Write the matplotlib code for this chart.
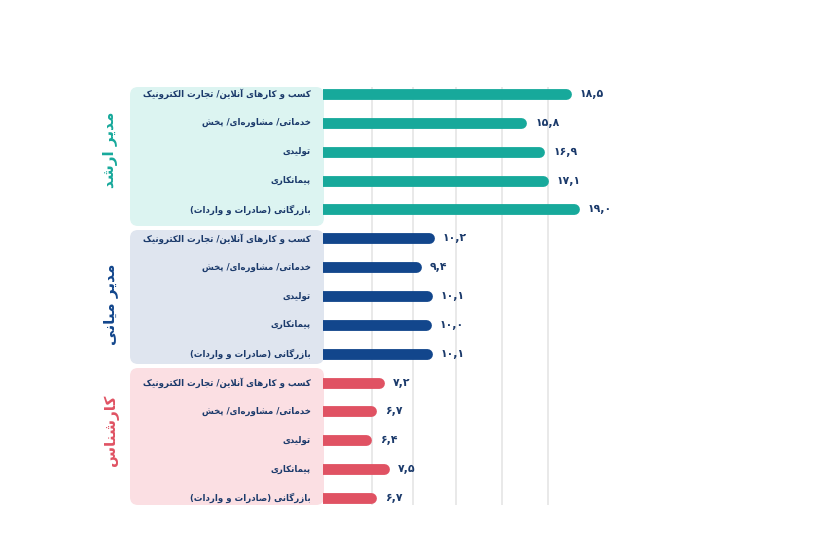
import matplotlib
matplotlib.use("Agg")
import matplotlib.pyplot as plt
from matplotlib.patches import FancyBboxPatch
from matplotlib.transforms import ScaledTranslation, IdentityTransform

# ---------------- data ----------------
categories = [
    "کسب و کارهای آنلاین/ تجارت الکترونیک",
    "خدماتی/ مشاوره‌ای/ پخش",
    "تولیدی",
    "پیمانکاری",
    "بازرگانی (صادرات و واردات)",
]
groups = ["مدیر ارشد", "مدیر میانی", "کارشناس"]
senior_values = [18.5, 15.8, 16.9, 17.1, 19.0]
middle_values = [10.2, 9.4, 10.1, 10.0, 10.1]
expert_values = [7.2, 6.7, 6.4, 7.5, 6.7]
grid_values = [6.4, 8.9, 11.5, 14.3, 17.1]

group_values = [senior_values, middle_values, expert_values]
bar_colors = ["#17a99b", "#12468c", "#e05263"]
panel_colors = ["#dcf4f1", "#dfe5ef", "#fbdfe3"]
title_colors = ["#17a99b", "#12468c", "#e05263"]
text_color = "#1b3a6b"

# ------------- minimal Persian shaping -------------
_RJ = {"ا": 0xFE8D, "آ": 0xFE81, "د": 0xFEA9, "ذ": 0xFEAB, "ر": 0xFEAD,
       "ز": 0xFEAF, "ژ": 0xFB8A, "و": 0xFEED}
_DJ = {"ب": 0xFE8F, "پ": 0xFB56, "ت": 0xFE95, "ث": 0xFE99, "ج": 0xFE9D,
       "چ": 0xFB7A, "ح": 0xFEA1, "خ": 0xFEA5, "س": 0xFEB1, "ش": 0xFEB5,
       "ص": 0xFEB9, "ض": 0xFEBD, "ط": 0xFEC1, "ظ": 0xFEC5, "ع": 0xFEC9,
       "غ": 0xFECD, "ف": 0xFED1, "ق": 0xFED5, "ک": 0xFB8E, "گ": 0xFB92,
       "ل": 0xFEDD, "م": 0xFEE1, "ن": 0xFEE5, "ه": 0xFEE9, "ی": 0xFBFC}
FORMS = {}
for k, b in _RJ.items():
    FORMS[k] = (b, b + 1, None, None)
for k, b in _DJ.items():
    FORMS[k] = (b, b + 1, b + 2, b + 3)
LAM_ALEF = {"ا": (0xFEFB, 0xFEFC), "آ": (0xFEF5, 0xFEF6)}


def shape(text):
    chars = list(text)
    n = len(chars)
    out = []

    def dual(c):
        return c in FORMS and FORMS[c][2] is not None

    i = 0
    while i < n:
        c = chars[i]
        if c == "\u200c":
            i += 1
            continue
        if c not in FORMS:
            out.append(c)
            i += 1
            continue
        prev = chars[i - 1] if i > 0 else None
        jp = prev is not None and dual(prev)
        if c == "ل" and i + 1 < n and chars[i + 1] in LAM_ALEF:
            lig = LAM_ALEF[chars[i + 1]]
            out.append(chr(lig[1] if jp else lig[0]))
            i += 2
            continue
        nxt = chars[i + 1] if i + 1 < n else None
        jn = dual(c) and nxt is not None and nxt in FORMS
        f = FORMS[c]
        if jp and jn:
            g = f[3]
        elif jp:
            g = f[1]
        elif jn:
            g = f[2]
        else:
            g = f[0]
        out.append(chr(g))
        i += 1
    vis = "".join(reversed(out))
    return vis.translate(str.maketrans("()", ")("))


def fa_num(v):
    s = f"{v:.1f}"
    return s.translate(str.maketrans("0123456789.", "۰۱۲۳۴۵۶۷۸۹,"))


# ---------------- figure ----------------
W, H = 840, 560
fig = plt.figure(figsize=(W / 100, H / 100), dpi=100)
fig.patch.set_facecolor("white")

ax_left, ax_right, ax_top, ax_bottom = 323, 620, 87, 505
ax = fig.add_axes([ax_left / W, 1 - ax_bottom / H,
                   (ax_right - ax_left) / W, (ax_bottom - ax_top) / H])
ax.patch.set_visible(False)
px_per_unit = 16.5
x0 = (ax_left - 266) / px_per_unit
ax.set_xlim(x0, x0 + (ax_right - ax_left) / px_per_unit)
row_px = 28.86
first_row = 94
ax.set_ylim((ax_bottom - first_row) / row_px, (ax_top - first_row) / row_px)
ax.axis("off")

# panels (pixel coordinates)
panel_spans = [(87, 226), (230, 364), (368, 505)]
for (t, b), pc in zip(panel_spans, panel_colors):
    p = FancyBboxPatch((130, H - b), 194, b - t,
                       boxstyle="round,pad=0,rounding_size=8",
                       transform=IdentityTransform(), facecolor=pc,
                       edgecolor="none", zorder=-5)
    fig.patches.append(p)

# gridlines
for gv in grid_values:
    ax.axvline(gv, color="#e9e9e9", lw=1.4, zorder=0)

bar_lw = 7.8
shift = ScaledTranslation(-bar_lw / 2 / 72, 0, fig.dpi_scale_trans)
font = ["DejaVu Sans"]
for g, vals in enumerate(group_values):
    for i, v in enumerate(vals):
        y = g * 5 + i
        ax.plot([0, v], [y, y], color=bar_colors[g], lw=bar_lw,
                solid_capstyle="round", transform=ax.transData + shift,
                zorder=2)
        ax.annotate(fa_num(v), xy=(v, y), xytext=(6, 0),
                    textcoords="offset points", ha="left", va="center",
                    fontsize=7.8, fontweight="bold", color=text_color,
                    family=font, annotation_clip=False)
        ax.annotate(shape(categories[i]), xy=(0, y),
                    xycoords=("axes fraction", "data"), xytext=(-9, 0),
                    textcoords="offset points", ha="right", va="center",
                    fontsize=6.2, fontweight="bold", color=text_color,
                    family=font, annotation_clip=False)

title_centers = [150, 304, 430]
for g, (name, yc) in enumerate(zip(groups, title_centers)):
    fig.text(111 / W, 1 - yc / H, shape(name), rotation=90, ha="center",
             va="center", fontsize=11, fontweight="bold",
             color=title_colors[g], family=font)

fig.savefig("out.png", dpi=100, facecolor="white")
